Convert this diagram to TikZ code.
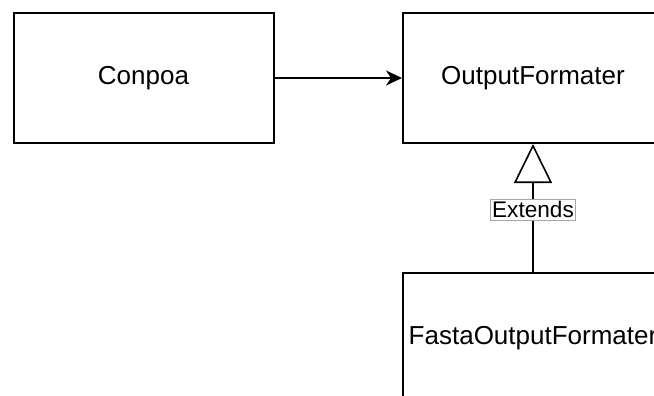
\documentclass[tikz,border=0pt]{standalone}
\usepackage{fontspec}
\setmainfont{Liberation Sans}
\usetikzlibrary{shapes,positioning}
\usetikzlibrary{arrows.meta}
\usetikzlibrary{calc}

\tikzset{
  classbox/.style={draw,line width=1pt,rectangle,minimum width=130pt,
     minimum height=65pt,inner sep=0pt,font=\fontsize{13}{15}\selectfont},
  extlabel/.style={draw=black!35,line width=0.4pt,fill=white,inner sep=1pt,
     font=\fontsize{11.3}{13}\selectfont}
}

\begin{document}
\begin{tikzpicture}[x=0.5pt,y=-0.5pt]

\useasboundingbox (0,0) rectangle (654,396);
\clip (0,0) rectangle (654,396);

\coordinate (c0) at (143.5,78);
\coordinate (c1) at (533.0,78);
\coordinate (c2) at (533.0,338);

\node[classbox] (conpoa) at (c0) {Conpoa};
\node[classbox] (outfmt) at (c1) {OutputFormater};
\node[classbox] (fastafmt) at (c2) {FastaOutputFormater};

% association
\draw[line width=1pt,-{Stealth[length=8pt,width=7.5pt,inset=2.5pt]}] (conpoa) -- (outfmt);

% generalisation
\draw[line width=0.8pt,-{Triangle[open,length=19.5pt,width=19pt,fill=white]}]
   (fastafmt.north) -- node[extlabel,pos=0.485] (ext) {Extends} (outfmt.south);

\end{tikzpicture}
\end{document}
